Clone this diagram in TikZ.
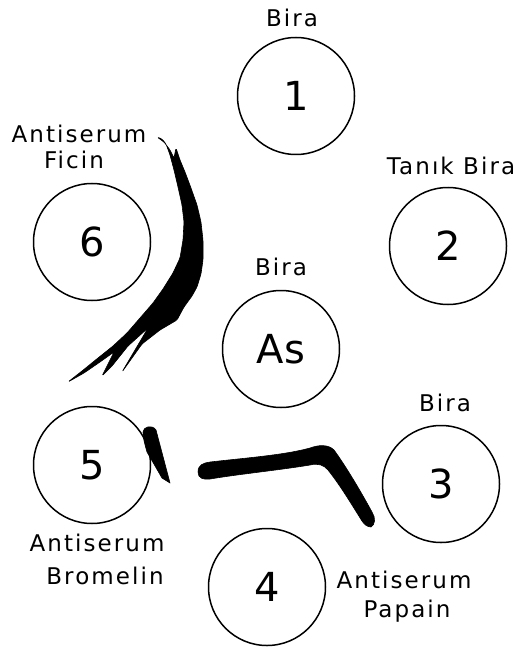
\documentclass[tikz,border=0pt]{standalone}
\usepackage{fontspec}
\setmainfont{DejaVu Sans}
\newfontfamily\handfont[LetterSpace=9]{DejaVu Sans}
\begin{document}
\begin{tikzpicture}[x=1pt,y=-1pt,
  well/.style={circle,draw,line width=1.5pt,minimum size=117pt,inner sep=0pt,font=\fontsize{40}{40}\selectfont},
  lbl/.style={inner sep=0pt,font=\handfont\fontsize{23}{27}\selectfont,align=center},
  blob/.style={fill=black,draw=black,line width=0.6pt,line join=round}]
\useasboundingbox (0,0) rectangle (531,647);
% wells
\node[well] (c1) at (296,96) {1};
\node[well] (c2) at (448,246) {2};
\node[well] (c6) at (92,242) {6};
\node[well] (cas) at (281,349) {As};
\node[well] (c5) at (92,465) {5};
\node[well] (c3) at (441,484) {3};
\node[well] (c4) at (267,587) {4};
% labels
\node[lbl] (l1) at (292,18) {Bira};
\node[lbl] (l2) at (451,166) {Tanık Bira};
\node[lbl] (l6) at (79,134) {Antiserum};
\node[lbl] (l6b) at (74,160) {Ficin};
\node[lbl] (las) at (281,267) {Bira};
\node[lbl] (l3) at (445,403) {Bira};
\node[lbl] (l5) at (97,543) {Antiserum};
\node[lbl] (l5b) at (105,576) {Bromelin};
\node[lbl] (l4) at (404,580) {Antiserum};
\node[lbl] (l4b) at (407,611) {Papain};
% precipitation arc near 6
\fill[blob,rounded corners=1.5pt] (157,137) -- (162,139) -- (166,144) -- (170,155) -- (174,170)
  -- (178,187) -- (182,205) -- (184,222) -- (183,240) -- (180,258) -- (173,273)
  -- (163,289) -- (153,303) -- (140,318) -- (127,333) -- (113,346) -- (98,358)
  -- (82,371) -- (68,382) -- (84,373) -- (100,362) -- (114,352)
  -- (102,376) -- (112,366) -- (128,346) -- (148,328)
  -- (122,372) -- (132,358) -- (142,344) -- (160,330) -- (177,320) -- (184,307)
  -- (192,296) -- (197,287) -- (201,274) -- (203,260) -- (203,240) -- (201,222)
  -- (197,205) -- (191,188) -- (185,172) -- (180,160) -- (176,148) -- (174,158)
  -- (170,150) -- (164,142) -- cycle;
% precipitation line near 5
\fill[blob] (143,432) .. controls (143,427) and (152,424) .. (156,430)
  -- (170,483) -- (162,478) -- (147,452) .. controls (145,445) and (143,438) .. (143,432) -- cycle;
% boomerang precipitation line between 5, As, 3 and 4
\fill[blob] (198,472) .. controls (198,465) and (203,463) .. (210,462)
  .. controls (245,458) and (285,455) .. (310,448)
  .. controls (318,445) and (328,444) .. (334,450)
  .. controls (345,465) and (360,490) .. (372,512)
  .. controls (376,518) and (375,525) .. (371,527)
  .. controls (367,527) and (364,524) .. (362,521)
  .. controls (352,505) and (340,485) .. (328,470)
  .. controls (324,465) and (318,463) .. (310,465)
  .. controls (280,470) and (240,474) .. (210,479)
  .. controls (203,480) and (198,478) .. (198,472) -- cycle;
\end{tikzpicture}
\end{document}
